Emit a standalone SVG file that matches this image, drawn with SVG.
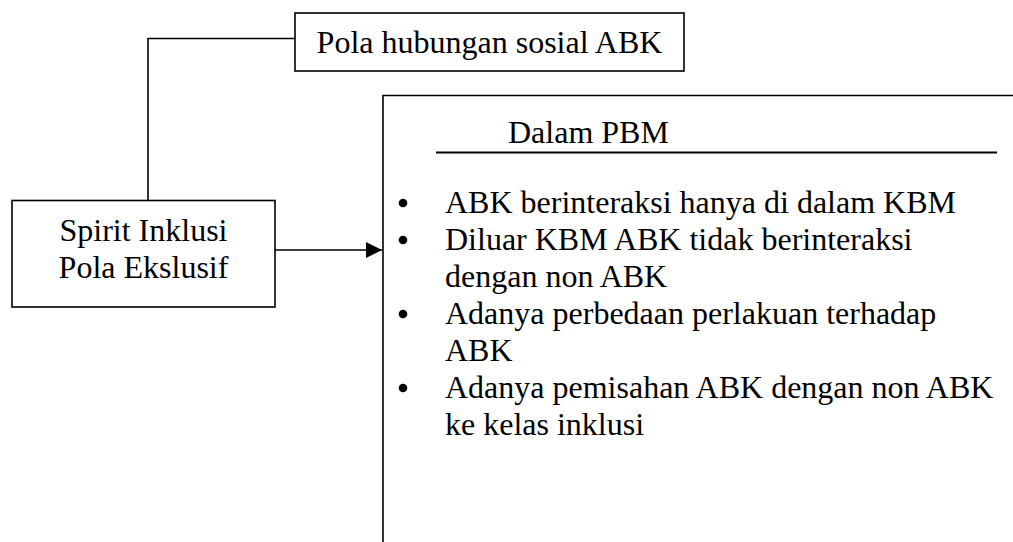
<svg xmlns="http://www.w3.org/2000/svg" width="1013" height="542" viewBox="0 0 1013 542">
<style>
.box{fill:#fff;stroke:#000;stroke-width:1.6}
.ln{fill:none;stroke:#000;stroke-width:1.6}
text{font-family:"Liberation Serif","Times New Roman",serif;font-size:32px;fill:#000}
</style>
<defs>
<marker id="arr" markerUnits="userSpaceOnUse" markerWidth="18" markerHeight="18" refX="16" refY="8" orient="auto">
<path d="M0,0 L16,8 L0,16 Z" fill="#000"/>
</marker>
</defs>
<rect width="1013" height="542" fill="#fff"/>
<g id="connectors">
<polyline class="ln" points="148,200 148,38.5 295,38.5"/>
<line class="ln" x1="275" y1="250" x2="382" y2="250" stroke-width="2" marker-end="url(#arr)"/>
</g>
<g id="pola-hubungan">
<rect class="box" x="295" y="13" width="389" height="58"/>
<text x="489.5" y="53" text-anchor="middle">Pola hubungan sosial ABK</text>
</g>
<g id="spirit">
<rect class="box" x="12" y="200.5" width="263" height="106.5"/>
<text x="143.5" y="241" text-anchor="middle">Spirit Inklusi</text>
<text x="143.5" y="278" text-anchor="middle">Pola Ekslusif</text>
</g>
<g id="dalam-pbm">
<polyline class="ln" points="383,542 383,95.5 1013,95.5"/>
<text x="508" y="143">Dalam PBM</text>
<line x1="436" y1="152.5" x2="997" y2="152.5" stroke="#000" stroke-width="2.2"/>
<circle cx="403" cy="203" r="4.3"/>
<circle cx="403" cy="240" r="4.3"/>
<circle cx="403" cy="314" r="4.3"/>
<circle cx="403" cy="388" r="4.3"/>
<text x="445" y="213">ABK berinteraksi hanya di dalam KBM</text>
<text x="445" y="250">Diluar KBM ABK tidak berinteraksi</text>
<text x="445" y="287">dengan non ABK</text>
<text x="445" y="324">Adanya perbedaan perlakuan terhadap</text>
<text x="445" y="361">ABK</text>
<text x="445" y="398">Adanya pemisahan ABK dengan non ABK</text>
<text x="445" y="435">ke kelas inklusi</text>
</g>
</svg>
